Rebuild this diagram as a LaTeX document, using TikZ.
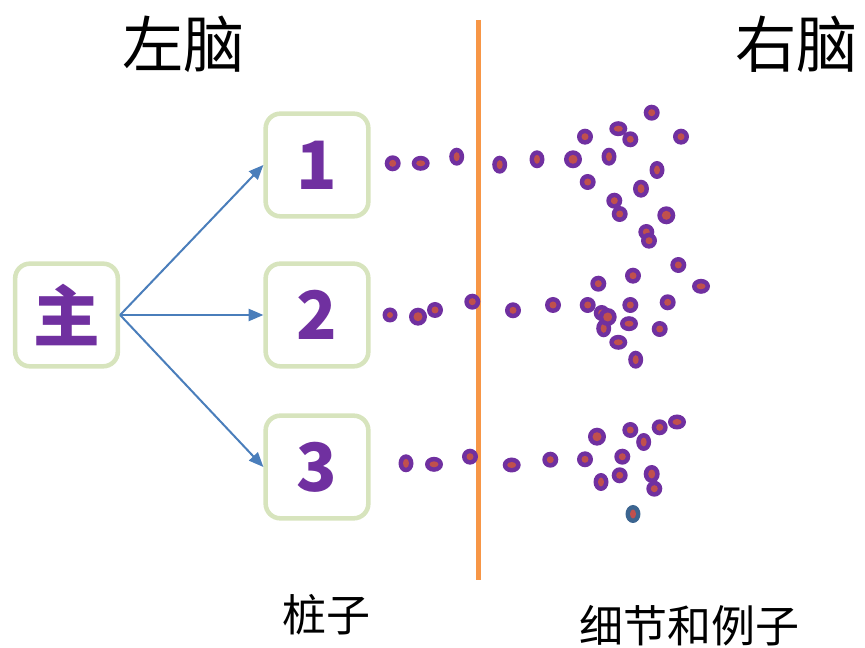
\documentclass[tikz,border=0pt]{standalone}
\usepackage{fontspec}
\setmainfont{Noto Sans CJK SC}
\usetikzlibrary{arrows.meta}

\definecolor{beadpurple}{HTML}{7030A0}
\definecolor{beadcore}{HTML}{C0504D}
\definecolor{beadblue}{HTML}{3C6590}
\definecolor{boxgreen}{HTML}{D7E4BD}
\definecolor{arrowblue}{HTML}{4A7EBB}
\definecolor{pegorange}{HTML}{F79646}

\begin{document}
\begin{tikzpicture}[x=0.75pt,y=-0.75pt,
    brainbox/.style={draw=boxgreen,line width=3.4pt,rounded corners=11pt,
        minimum width=77pt,minimum height=77pt,inner sep=0pt,
        text=beadpurple,font=\bfseries\fontsize{50pt}{50pt}\selectfont},
    link/.style={arrowblue,line width=1.5pt,-{Triangle[length=11pt,width=9pt]}},
    heading/.style={font=\fontsize{46pt}{46pt}\selectfont,inner sep=0pt},
    caption/.style={font=\fontsize{33pt}{33pt}\selectfont,inner sep=0pt}]

            \useasboundingbox (0,0) rectangle (865,648);

            % Headings
            \node[heading] (left) at (183.5,44) {左脑};
            \node[heading] (right) at (796.5,44) {右脑};

            % Dividing line
            \draw[pegorange,line width=3.75pt] (478.5,20) -- (478.5,580);

            % Boxes
            \node[brainbox] (main) at (66.5,315) {主};
            \node[brainbox] (peg1) at (317,165) {1};
            \node[brainbox] (peg2) at (317,315) {2};
            \node[brainbox] (peg3) at (317,467) {3};

            % Arrows
            \draw[link] (main.east) -- (peg1.west);
            \draw[link] (main.east) -- (peg2.west);
            \draw[link] (main.east) -- (peg3.west);

            % Beads (x/y/x radius/y radius)
            \foreach \x/\y/\a/\b in {
                392.7/163.3/8/8, 420.7/163.3/9/7.5, 456.7/156.7/7.5/9, 499.7/164.7/7.5/9,
                537/159.3/7.5/9, 651.7/112.7/8/8, 618.3/128.7/9/7.5, 585/136.7/8/8,
                630.3/139.3/8/8, 681/136.7/8/8, 573/159.3/9/9, 609/156.7/7.5/9,
                657/170/7.5/9, 587.7/182/8/8, 641/188.7/8/9, 614.3/200.7/8/8,
                619.7/214/8/8, 666.3/215.3/9/9, 646.3/232/8/8, 649/240.7/8/8,
                390/315/7.5/7.5, 418/316.7/9/9, 435/310/8/8, 472.3/301.7/8/8,
                513/310.3/8/8, 553/305/8/8, 678.3/265/8/8, 633/275.7/8/8,
                598.3/283.7/8/8, 701/286.3/9/7.5, 587.7/305/8/8, 630.3/305/8/8,
                667.7/302.3/8/8, 601.7/313/8/8, 603.7/328.3/7.5/9, 607.7/317/9/9,
                629/323.7/9/7.5, 659.7/329/8/8, 618.3/342.3/9/7.5, 635.7/359.7/7.5/9,
                406/463.3/7.5/9, 434/464.3/9/7.5, 470/456.7/8/8, 511.7/465/9/7.5,
                550.3/459.7/8/8, 597/436.7/9/9, 630.3/430/8/8, 659.7/427.3/8/8,
                677/422/9/7.5, 643.7/442/7.5/9, 585/459.3/8/8, 622.3/456.7/8/8,
                601/482/7.5/9, 619.7/475.3/8/8, 651.7/474/8/9, 654.3/488.7/8/8}
            {
                \fill[beadpurple] (\x,\y) ellipse ({\a*0.75pt} and {\b*0.75pt});
                \fill[beadcore] (\x,\y) ellipse ({(\a-4.5)*0.75pt} and {(\b-4.5)*0.75pt});
            }
            % Odd one out
            \fill[beadblue] (633,514) ellipse (5.6pt and 6.75pt);
            \fill[beadcore] (633,514) ellipse (2.25pt and 3.4pt);

            % Captions
            \node[caption] (pegs) at (326,615) {桩子};
            \node[caption] (details) at (689,626) {细节和例子};

        \end{tikzpicture}
\end{document}
